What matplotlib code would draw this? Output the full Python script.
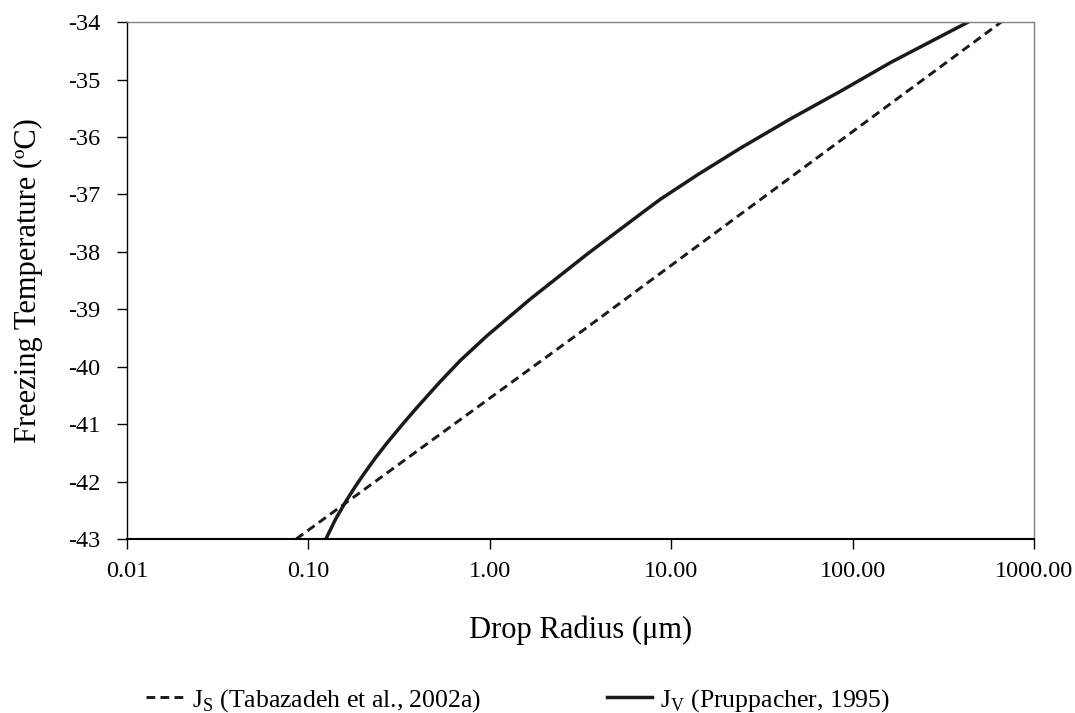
import matplotlib
matplotlib.use('Agg')
import matplotlib.pyplot as plt

plt.rcParams['font.family'] = 'Liberation Serif'
plt.rcParams['mathtext.fontset'] = 'custom'
plt.rcParams['mathtext.rm'] = 'Liberation Serif'
plt.rcParams['axes.unicode_minus'] = False

# J_S (Tabazadeh et al., 2002a) - straight line on the log radius axis
js_radius = [0.0857, 3.16, 658.0]
js_temp = [-43.0, -39.40, -34.0]

# J_V (Pruppacher, 1995)
jv_radius = [0.125, 0.141, 0.162, 0.182, 0.200, 0.234, 0.271, 0.331, 0.397, 0.533, 0.689,
             0.966, 1.675, 3.44, 6.78, 8.75, 14.1, 24.2, 45.7, 86.1, 162.5, 432.5]
jv_temp = [-43.0, -42.66, -42.33, -42.08, -41.89, -41.59, -41.33, -41.00, -40.71, -40.26, -39.89,
           -39.46, -38.82, -38.04, -37.34, -37.08, -36.65, -36.19, -35.68, -35.20, -34.70, -34.0]

xticks = [0.01, 0.1, 1, 10, 100, 1000]
xticklabels = ['0.01', '0.10', '1.00', '10.00', '100.00', '1000.00']
yticks = list(range(-43, -33))

fig = plt.figure(figsize=(10.75, 7.13), dpi=100)
ax = fig.add_axes([0.118, 0.244, 0.844, 0.725])

line_s, = ax.plot(js_radius, js_temp, color='#1a1a1a', lw=2.1, ls=(0, (3, 1.8)),
                  label=r'J$_\mathrm{S}$ (Tabazadeh et al., 2002a)')
line_v, = ax.plot(jv_radius, jv_temp, color='#1a1a1a', lw=2.5,
                  solid_joinstyle='round',
                  label=r'J$_\mathrm{V}$ (Pruppacher, 1995)')

ax.set_xscale('log')
ax.set_xlim(0.01, 1000)
ax.set_ylim(-43, -34)
ax.set_xticks(xticks)
ax.set_xticklabels(xticklabels)
ax.minorticks_off()
ax.set_yticks(yticks)
ax.tick_params(axis='both', labelsize=17.5, direction='out', length=7, width=1)
ax.tick_params(axis='y', pad=12)
ax.tick_params(axis='x', pad=9)

for s in ['top', 'right']:
    ax.spines[s].set_color('#808080')
    ax.spines[s].set_linewidth(1)
ax.spines['left'].set_linewidth(1)
ax.spines['bottom'].set_linewidth(1.5)

ax.set_xlabel('Drop Radius (μm)', fontsize=22)
ax.xaxis.set_label_coords(0.5, -0.147)
ax.set_ylabel('Freezing Temperature (ºC)', fontsize=22)
ax.yaxis.set_label_coords(-0.092, 0.5)

# two legend entries placed separately under the plot
fig.legend(handles=[line_s], loc='center left', bbox_to_anchor=(0.136, 0.018),
           frameon=False, fontsize=18.5, handlelength=1.5, handletextpad=0.3,
           borderpad=0, borderaxespad=0)
fig.legend(handles=[line_v], loc='center left', bbox_to_anchor=(0.565, 0.018),
           frameon=False, fontsize=18.5, handlelength=1.75, handletextpad=0.3,
           borderpad=0, borderaxespad=0)

fig.savefig('out.png', dpi=100)
